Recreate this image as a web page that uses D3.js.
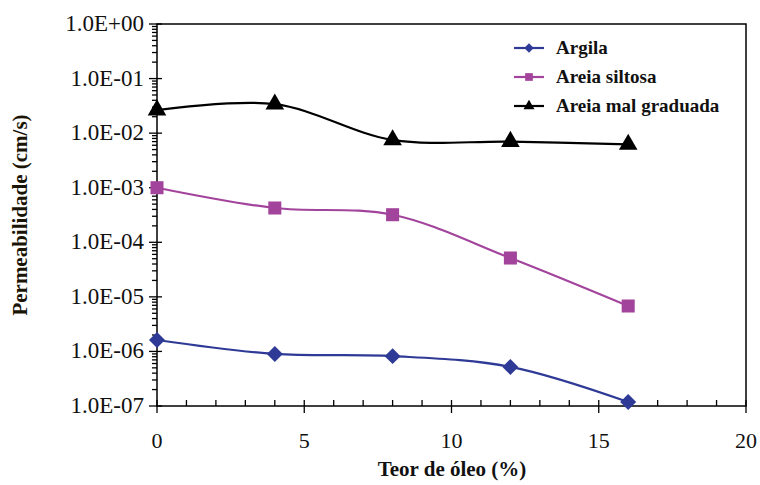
<!DOCTYPE html>
<html><head><meta charset="utf-8">
<script src="https://cdn.jsdelivr.net/npm/d3@7"></script>
<style>
body{margin:0;background:#fff;}
svg{display:block;}
svg text{font-family:"Liberation Serif","Times New Roman","DejaVu Serif",serif;}
</style>
</head><body>
<svg id="chart" width="760" height="485"></svg>
<script>
const xValues = [0, 4, 8, 12, 16];
const argila = [1.62e-6, 9.0e-7, 8.2e-7, 5.2e-7, 1.18e-7];
const areiaSiltosa = [1.0e-3, 4.25e-4, 3.2e-4, 5.15e-5, 6.8e-6];
const areiaMalGraduada = [2.65e-2, 3.4e-2, 7.5e-3, 7.0e-3, 6.2e-3];
const seriesNames = ["Argila", "Areia siltosa", "Areia mal graduada"];
const xTicks = [0, 5, 10, 15, 20];
const yTicks = [1e-7, 1e-6, 1e-5, 1e-4, 1e-3, 1e-2, 1e-1, 1];
const yTickLabels = ["1.0E-07", "1.0E-06", "1.0E-05", "1.0E-04", "1.0E-03", "1.0E-02", "1.0E-01", "1.0E+00"];

const svg = d3.select("#chart");
const L = 157, R = 746, T = 24, B = 406;
const x = d3.scaleLinear().domain([0, 20]).range([L, R]);
const y = d3.scaleLog().domain([1e-7, 1]).range([B, T]);

svg.append("rect").attr("x", L).attr("y", T).attr("width", R - L).attr("height", B - T)
  .attr("fill", "none").attr("stroke", "#000").attr("stroke-width", 1.5);

const g = svg.append("g").attr("stroke", "#000").attr("stroke-width", 1.3);
d3.range(0, 21).forEach(v => {
  const major = v % 5 === 0;
  g.append("line").attr("x1", x(v)).attr("x2", x(v))
    .attr("y1", major ? B + 7 : B).attr("y2", B - 6);
});
for (let e = -7; e < 0; e++) {
  for (let m = 2; m <= 9; m++) {
    const v = m * Math.pow(10, e);
    g.append("line").attr("x1", L - 5).attr("x2", L).attr("y1", y(v)).attr("y2", y(v));
  }
}
yTicks.forEach(v => {
  g.append("line").attr("x1", L - 8).attr("x2", L + 5).attr("y1", y(v)).attr("y2", y(v));
});

svg.append("g").selectAll("text").data(xTicks).join("text")
  .attr("x", d => x(d)).attr("y", 448).attr("text-anchor", "middle")
  .attr("font-size", 22).attr("fill", "#111").text(d => d);
svg.append("g").selectAll("text").data(yTicks).join("text")
  .attr("x", 144).attr("y", d => y(d) + 7).attr("text-anchor", "end")
  .attr("font-size", 23).attr("fill", "#111")
  .text((d, i) => yTickLabels[i]);

svg.append("text").attr("x", 452).attr("y", 476).attr("text-anchor", "middle")
  .attr("font-size", 21).attr("font-weight", "bold")
  .attr("fill", "#111").text("Teor de óleo (%)");
svg.append("text").attr("transform", `translate(27,${(T + B) / 2}) rotate(-90)`)
  .attr("text-anchor", "middle").attr("font-size", 21)
  .attr("font-weight", "bold").attr("fill", "#1a1405").text("Permeabilidade (cm/s)");

const diamond = {draw(ctx, size) { const r = Math.sqrt(size) / 2 * 1.35;
  ctx.moveTo(0, -r); ctx.lineTo(r, 0); ctx.lineTo(0, r); ctx.lineTo(-r, 0); ctx.closePath(); }};

const series = [
  {name: seriesNames[0], values: argila, color: "#2e3a96", shape: diamond, size: 140},
  {name: seriesNames[1], values: areiaSiltosa, color: "#a3449c", shape: d3.symbolSquare, size: 170},
  {name: seriesNames[2], values: areiaMalGraduada, color: "#000000", shape: d3.symbolTriangle, size: 150}
];

const line = d3.line().x(d => x(d[0])).y(d => y(d[1])).curve(d3.curveCatmullRom.alpha(0.5));

series.forEach(s => {
  const pts = xValues.map((xv, i) => [xv, s.values[i]]);
  svg.append("path").datum(pts).attr("d", line).attr("fill", "none")
    .attr("stroke", s.color).attr("stroke-width", 2.2);
  svg.append("g").selectAll("path").data(pts).join("path")
    .attr("transform", d => `translate(${x(d[0])},${y(d[1])})`)
    .attr("d", d3.symbol().type(s.shape).size(s.size)).attr("fill", s.color);
});

const lg = svg.append("g");
series.forEach((s, i) => {
  const yy = 48 + i * 29;
  lg.append("line").attr("x1", 514).attr("x2", 544).attr("y1", yy).attr("y2", yy)
    .attr("stroke", s.color).attr("stroke-width", 2.2);
  lg.append("path").attr("transform", `translate(529,${yy})`)
    .attr("d", d3.symbol().type(s.shape).size(s.size * 0.35)).attr("fill", s.color);
  lg.append("text").attr("x", 556).attr("y", yy + 6)
    .attr("font-size", 19).attr("font-weight", "bold").attr("fill", "#111").text(s.name);
});
</script>
</body></html>
